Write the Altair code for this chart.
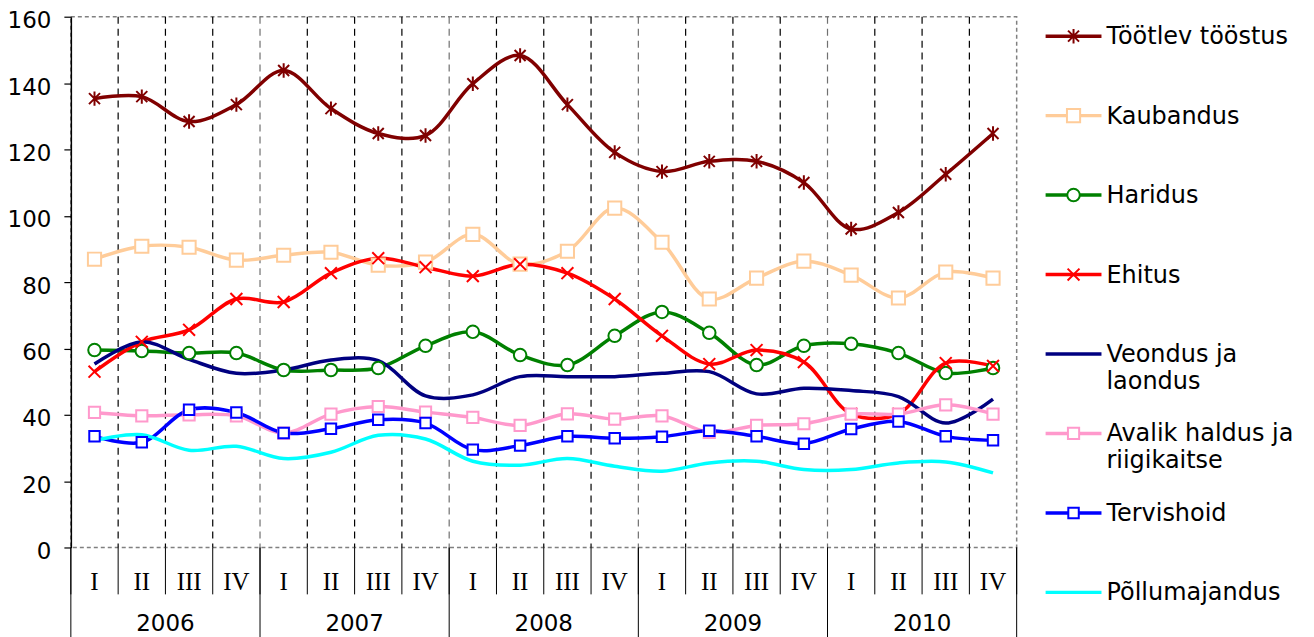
import altair as alt
import pandas as pd

# ---------------- data ----------------
series = ["Töötlev tööstus", "Kaubandus", "Haridus", "Ehitus",
          "Veondus ja laondus", "Avalik haldus ja riigikaitse",
          "Tervishoid", "Põllumajandus"]
legend_labels = ["Töötlev tööstus", "Kaubandus", "Haridus", "Ehitus",
                 "Veondus ja\nlaondus", "Avalik haldus ja\nriigikaitse",
                 "Tervishoid", "Põllumajandus"]
colors = ["#800000", "#FFCC99", "#008000", "#FF0000",
          "#000080", "#FF99CC", "#0000FF", "#00FFFF"]
quarter_labels = ["I", "II", "III", "IV"]
years = ["2006", "2007", "2008", "2009", "2010"]

tootlev = [135.3, 135.9, 128.4, 133.5, 143.8, 132.3, 124.8, 124.2, 139.8, 148.3,
           133.5, 119.1, 113.3, 116.4, 116.4, 110.0, 96.0, 101.0, 112.5, 124.8]
kaubandus = [86.9, 90.8, 90.5, 86.6, 88.1, 89.0, 85.1, 86.0, 94.4, 85.4,
             89.3, 102.3, 92.0, 74.9, 81.2, 86.3, 82.1, 75.2, 83.0, 81.2]
haridus = [59.5, 59.2, 58.6, 58.6, 53.5, 53.5, 54.1, 60.8, 65.0, 58.0,
           55.0, 63.8, 71.0, 64.7, 55.0, 60.8, 61.4, 58.6, 52.6, 54.1]
ehitus = [53.0, 62.0, 65.6, 74.9, 74.0, 82.7, 87.2, 84.5, 81.8, 85.4,
          82.7, 74.9, 63.8, 55.3, 59.5, 55.9, 40.3, 40.3, 55.6, 54.7]
veondus = [55.3, 62.0, 56.7, 52.5, 53.5, 56.5, 56.3, 45.7, 46.0, 51.5,
           51.5, 51.5, 52.5, 53.0, 46.3, 48.0, 47.3, 45.5, 37.5, 44.7]
avalik = [40.7, 39.7, 40.0, 39.7, 34.5, 40.2, 42.5, 40.8, 39.2, 36.8,
          40.3, 38.7, 39.7, 34.7, 36.8, 37.3, 40.2, 40.2, 43.0, 40.2]
tervishoid = [33.5, 31.7, 41.5, 40.7, 34.5, 35.8, 38.5, 37.5, 29.5, 30.7,
              33.5, 32.9, 33.4, 35.2, 33.5, 31.3, 35.7, 38.0, 33.5, 32.3]
pollumajandus = [32.3, 34.0, 29.3, 30.5, 26.8, 28.7, 33.8, 32.7, 26.0, 24.8,
                 26.8, 24.5, 23.0, 25.5, 26.0, 23.5, 23.5, 25.5, 25.8, 22.5]

values = [tootlev, kaubandus, haridus, ehitus, veondus, avalik, tervishoid, pollumajandus]

# marker styles
asterisk = "M-0.8,-0.8L0.8,0.8M-0.8,0.8L0.8,-0.8M0,-1.05L0,1.05"
xmark = "M-1,-1L1,1M-1,1L1,-1"
marker_series = ["Töötlev tööstus", "Kaubandus", "Haridus", "Ehitus",
                 "Avalik haldus ja riigikaitse", "Tervishoid"]
marker_shapes = [asterisk, "square", "circle", xmark, "square", "square"]
marker_sizes = [190, 110, 100, 170, 45, 45]

# ---------------- tables ----------------
rows = []
for s, vals in zip(series, values):
    for i, v in enumerate(vals):
        rows.append({"series": s, "idx": i, "value": v})
df = pd.DataFrame(rows)
df_markers = df[df["series"].isin(marker_series)]

n = len(tootlev)
quarters_df = pd.DataFrame({"idx": list(range(n)),
                            "label": [quarter_labels[i % 4] for i in range(n)]})
years_df = pd.DataFrame({"idx": [4 * k + 1.5 for k in range(len(years))], "label": years})
inner_bounds = pd.DataFrame({"b": [i + 0.5 for i in range(n - 1)],
                             "yearb": [((i + 1) % 4 == 0) for i in range(n - 1)]})
all_bounds = pd.DataFrame({"b": [i - 0.5 for i in range(n + 1)]})
year_bounds = pd.DataFrame({"b": [4 * k - 0.5 for k in range(len(years) + 1)]})
legend_df = pd.DataFrame({"series": series, "label": legend_labels,
                          "rank": list(range(len(series)))})
legend_markers = legend_df[legend_df["series"].isin(marker_series)]

W, H = 948, 532
FONT = "DejaVu Sans"

xscale = alt.Scale(domain=[-0.5, n - 0.5], nice=False, zero=False)
yscale = alt.Scale(domain=[0, 160], nice=False, zero=True)
color = alt.Color("series:N", scale=alt.Scale(domain=series, range=colors), legend=None)
shape = alt.Shape("series:N", scale=alt.Scale(domain=marker_series, range=marker_shapes), legend=None)
size = alt.Size("series:N", scale=alt.Scale(domain=marker_series, range=marker_sizes), legend=None)
legend_y = alt.Y("rank:Q", scale=alt.Scale(domain=[0, 7], range=[19.5, 577]), axis=None)

grid = alt.Chart(inner_bounds).mark_rule(strokeDash=[7, 5], strokeWidth=1.2).encode(
    x=alt.X("b:Q", scale=xscale, axis=None),
    y=alt.value(0), y2=alt.value(H),
    color=alt.condition("datum.yearb", alt.value("#707070"), alt.value("#000000")),
)

qsep = alt.Chart(all_bounds).mark_rule(color="#000000", strokeWidth=1).encode(
    x=alt.X("b:Q", scale=xscale, axis=None),
    y=alt.value(H), y2=alt.value(H + 47),
)
ysep = alt.Chart(year_bounds).mark_rule(color="#000000", strokeWidth=1).encode(
    x=alt.X("b:Q", scale=xscale, axis=None),
    y=alt.value(H), y2=alt.value(H + 95),
)
qtext = alt.Chart(quarters_df).mark_text(font="Liberation Serif", fontSize=25,
                                         color="#000000", baseline="middle").encode(
    x=alt.X("idx:Q", scale=xscale, axis=None),
    y=alt.value(H + 35),
    text="label:N",
)
ytext = alt.Chart(years_df).mark_text(font=FONT, fontSize=23, color="#000000",
                                      baseline="middle").encode(
    x=alt.X("idx:Q", scale=xscale, axis=None),
    y=alt.value(H + 77),
    text="label:N",
)

lines = alt.Chart(df).mark_line(interpolate="catmull-rom", strokeWidth=3.5).encode(
    x=alt.X("idx:Q", scale=xscale,
            axis=alt.Axis(labels=False, ticks=False, grid=False, title=None,
                          domainColor="#000000", domainWidth=1.5)),
    y=alt.Y("value:Q", scale=yscale,
            axis=alt.Axis(values=list(range(0, 161, 20)), title=None, grid=False,
                          domainColor="#000000", domainWidth=1.5,
                          tickColor="#000000", tickSize=7, tickWidth=1.2,
                          labelFont=FONT, labelFontSize=23, labelColor="#000000",
                          labelPadding=13, labelOffset=4)),
    color=color,
    detail="series:N",
)

points = alt.Chart(df_markers).mark_point(filled=False, fill="white", fillOpacity=1,
                                          strokeWidth=2, opacity=1).encode(
    x=alt.X("idx:Q", scale=xscale, axis=None),
    y=alt.Y("value:Q", scale=yscale, axis=None),
    color=color, shape=shape, size=size,
)

leg_rule = alt.Chart(legend_df).mark_rule(strokeWidth=3.5).encode(
    x=alt.value(W + 29), x2=alt.value(W + 85),
    y=legend_y,
    color=color,
)
leg_pts = alt.Chart(legend_markers).mark_point(filled=False, fill="white", fillOpacity=1,
                                               strokeWidth=2, opacity=1).encode(
    x=alt.value(W + 57),
    y=legend_y,
    color=color, shape=shape, size=size,
)
leg_text = alt.Chart(legend_df).mark_text(font=FONT, fontSize=24, lineHeight=27,
                                          align="left", baseline="top", dy=-11,
                                          color="#000000", lineBreak="\n").encode(
    x=alt.value(W + 90),
    y=legend_y,
    text="label:N",
)

chart = alt.layer(
    grid, qsep, ysep, qtext, ytext, lines, points, leg_rule, leg_pts, leg_text
).resolve_scale(y="independent").properties(
    width=W, height=H,
    autosize=alt.AutoSizeParams(type="none"),
    padding={"left": 63, "top": 8, "right": 290, "bottom": 89},
    background="white",
).configure_view(stroke="#808080", strokeDash=[4, 3], strokeWidth=1.5)

chart.save("out.html", embed_options={"renderer": "svg", "actions": False})
